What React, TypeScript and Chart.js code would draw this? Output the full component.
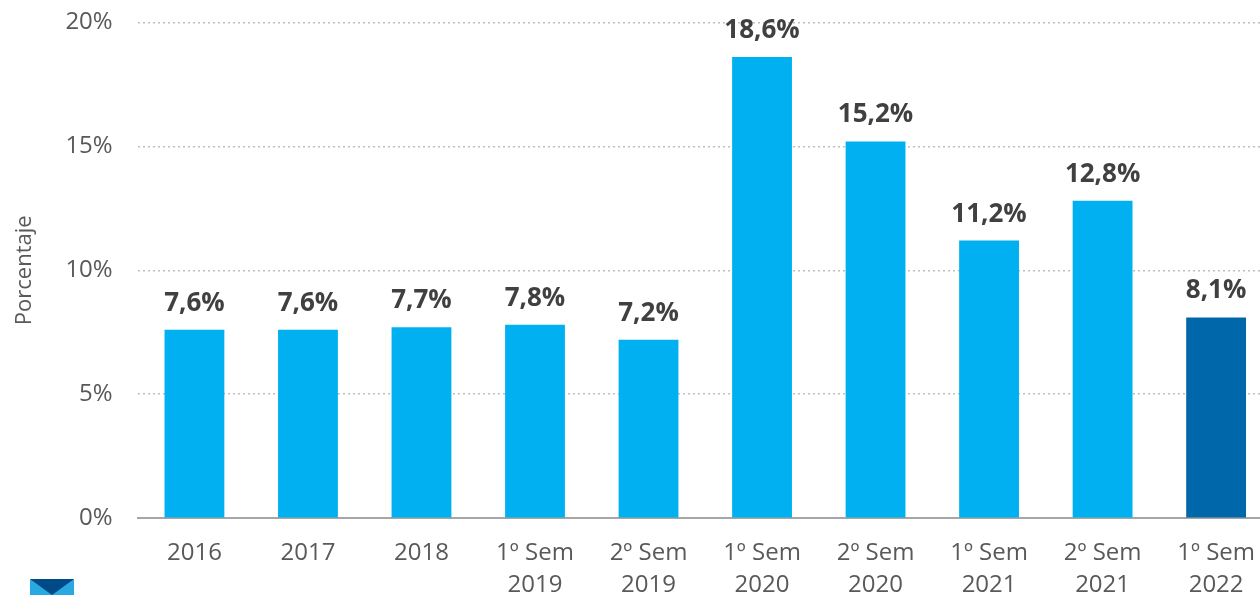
import React, { useEffect, useRef } from "react";
import { Chart, registerables } from "chart.js";

Chart.register(...registerables);

const categories: (string | string[])[] = [
  "2016",
  "2017",
  "2018",
  ["1º Sem", "2019"],
  ["2º Sem", "2019"],
  ["1º Sem", "2020"],
  ["2º Sem", "2020"],
  ["1º Sem", "2021"],
  ["2º Sem", "2021"],
  ["1º Sem", "2022"],
];
const values: number[] = [7.6, 7.6, 7.7, 7.8, 7.2, 18.6, 15.2, 11.2, 12.8, 8.1];
const barColors: string[] = [
  "#00B0F0", "#00B0F0", "#00B0F0", "#00B0F0", "#00B0F0",
  "#00B0F0", "#00B0F0", "#00B0F0", "#00B0F0", "#0067AA",
];
const yTicks: number[] = [0, 5, 10, 15, 20];
const yTitle = "Porcentaje";

const FONT = "'Open Sans', 'Liberation Sans', sans-serif";

const labelPlugin = {
  id: "barLabels",
  afterDatasetsDraw(chart: any) {
    const ctx = chart.ctx;
    const meta = chart.getDatasetMeta(0);
    ctx.save();
    ctx.fillStyle = "#404040";
    ctx.font = `bold 26px ${FONT}`;
    ctx.textAlign = "center";
    ctx.textBaseline = "alphabetic";
    meta.data.forEach((bar: any, i: number) => {
      const txt = values[i].toFixed(1).replace(".", ",") + "%";
      ctx.fillText(txt, bar.x, bar.y - 19);
    });
    ctx.restore();
  },
};

export default function App() {
  const ref = useRef<HTMLCanvasElement | null>(null);
  useEffect(() => {
    if (!ref.current) return;
    const chart = new Chart(ref.current, {
      type: "bar",
      data: {
        labels: categories,
        datasets: [
          {
            data: values,
            backgroundColor: barColors,
            categoryPercentage: 1,
            barPercentage: 0.527,
          },
        ],
      },
      options: {
        animation: false,
        responsive: false,
        maintainAspectRatio: false,
        layout: { padding: { top: 6, right: 0, left: 12, bottom: 0 } },
        plugins: {
          legend: { display: false },
          tooltip: { enabled: false },
        },
        scales: {
          x: {
            grid: { display: false, drawTicks: false },
            border: { display: true, color: "#A6A6A6", width: 2 },
            ticks: {
              color: "#595959",
              font: { family: FONT, size: 24, lineHeight: 1.33 },
              padding: 19,
              maxRotation: 0,
              autoSkip: false,
            },
          },
          y: {
            min: 0,
            max: 20,
            afterBuildTicks: (axis: any) => {
              axis.ticks = yTicks.map((v) => ({ value: v }));
            },
            grid: {
              color: (c: any) => (c.tick && c.tick.value === 0 ? "rgba(0,0,0,0)" : "#BFBFBF"),
              lineWidth: 1.5,
              drawTicks: false,
            },
            border: { display: false, dash: [2, 3] },
            ticks: {
              color: "#595959",
              font: { family: FONT, size: 24 },
              padding: 25,
              callback: (v: any) => `${v}%`,
            },
            title: {
              display: true,
              text: yTitle,
              color: "#595959",
              font: { family: FONT, size: 22 },
              padding: { top: 0, bottom: 2 },
            },
          },
        },
      },
      plugins: [labelPlugin],
    });
    return () => chart.destroy();
  }, []);
  return (
    <div
      style={{
        position: "fixed",
        left: 0,
        top: 0,
        width: 1260,
        height: 595,
        background: "#fff",
        overflow: "hidden",
      }}
    >
      <canvas
        ref={ref}
        width={1274}
        height={637}
        style={{ display: "block", position: "absolute", left: 0, top: -17 }}
      />
      <div
        style={{
          position: "absolute",
          left: 30,
          top: 579,
          width: 44,
          height: 16,
          background: "#29A9E0",
          overflow: "hidden",
        }}
      >
        <div
          style={{
            width: 0,
            height: 0,
            borderLeft: "22px solid transparent",
            borderRight: "22px solid transparent",
            borderTop: "16px solid #004A87",
          }}
        />
      </div>
    </div>
  );
}
